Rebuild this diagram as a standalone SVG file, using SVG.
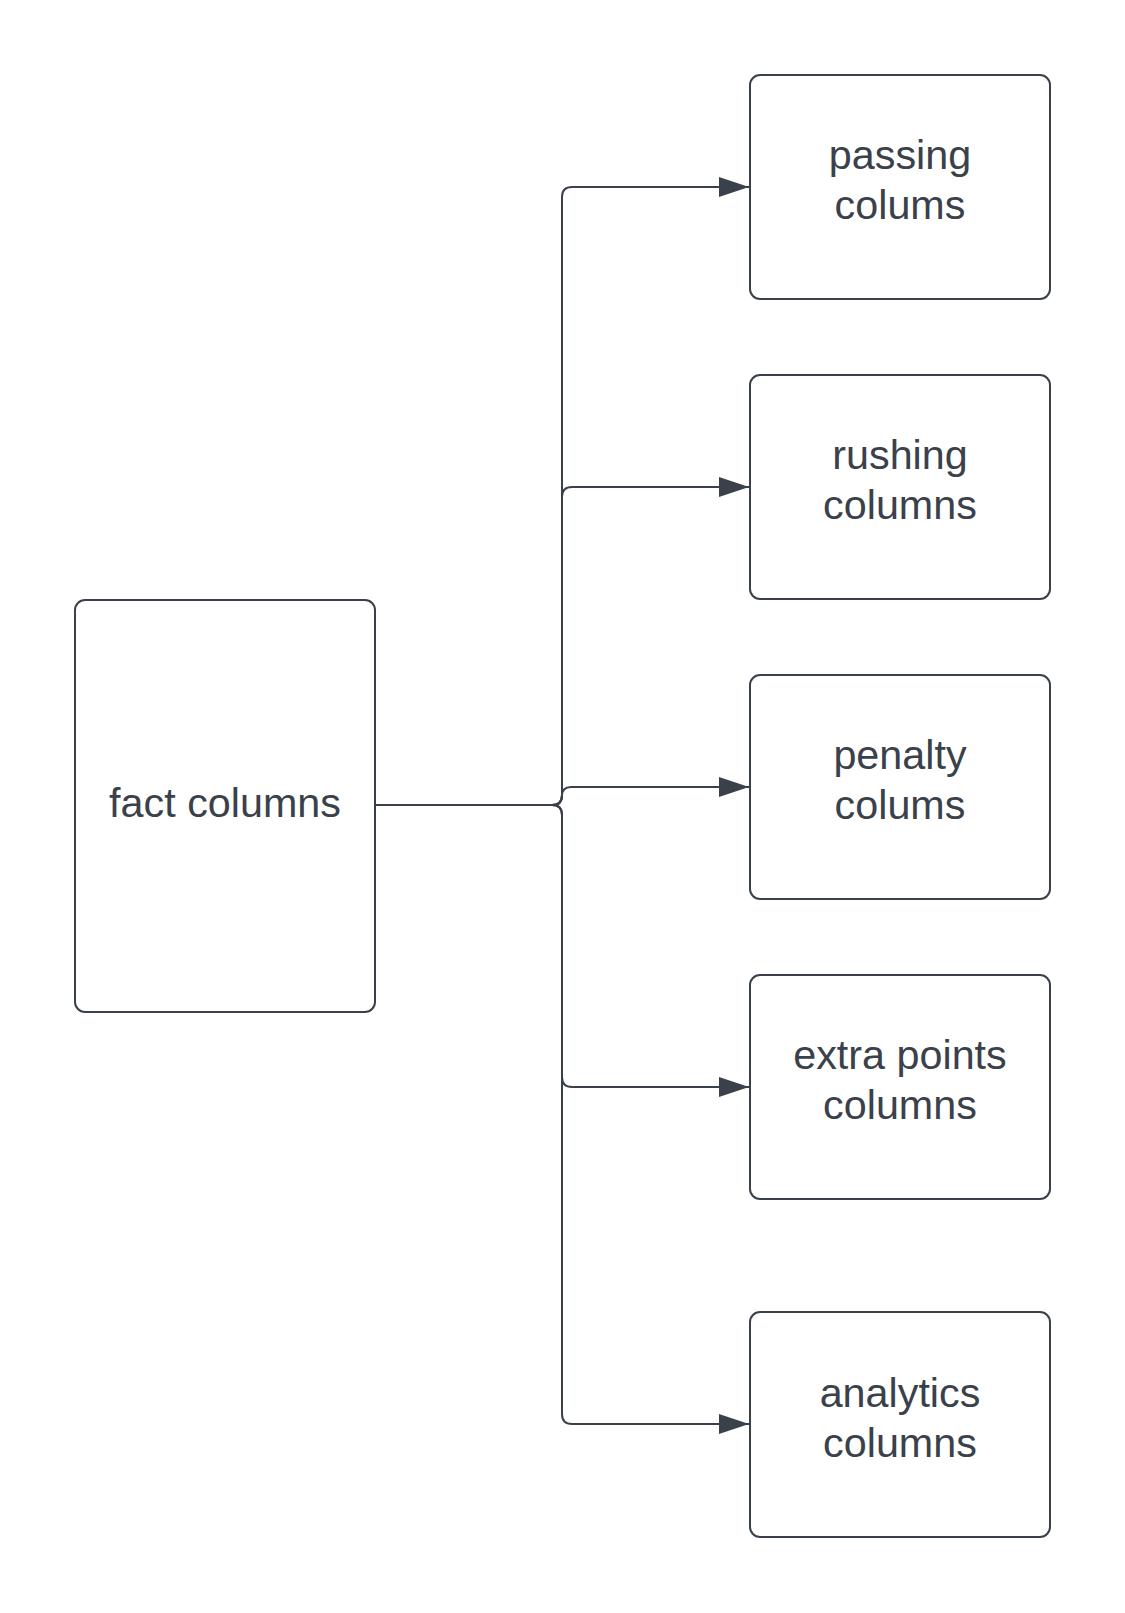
<svg xmlns="http://www.w3.org/2000/svg" width="1125" height="1613" viewBox="0 0 1125 1613">
<style>
.box{fill:#ffffff;stroke:#3a414a;stroke-width:2}
.lbl{font-family:"Liberation Sans",Arial,sans-serif;font-size:41.3px;fill:#3a414a;text-anchor:middle}
.con{fill:none;stroke:#3a414a;stroke-width:2}
</style>
<defs>
<marker id="arr" markerUnits="userSpaceOnUse" markerWidth="32" markerHeight="22" refX="30" refY="10" orient="auto">
<path d="M0,0 L30,10 L0,20 Z" fill="#3a414a"/>
</marker>
</defs>
<rect width="1125" height="1613" fill="#ffffff"/>
<g id="connectors">
<path class="con" marker-end="url(#arr)" d="M375,805 H552 Q562,805 562,795 V197 Q562,187 572,187 H749"/>
<path class="con" marker-end="url(#arr)" d="M375,805 H552 Q562,805 562,795 V497 Q562,487 572,487 H749"/>
<path class="con" marker-end="url(#arr)" d="M375,805 H553 Q562,805 562,796 Q562,787 571,787 H749"/>
<path class="con" marker-end="url(#arr)" d="M375,805 H552 Q562,805 562,815 V1077 Q562,1087 572,1087 H749"/>
<path class="con" marker-end="url(#arr)" d="M375,805 H552 Q562,805 562,815 V1414 Q562,1424 572,1424 H749"/>
</g>
<g id="fact">
<rect class="box" x="75" y="600" width="300" height="412" rx="10"/>
<text class="lbl" x="225" y="817">fact columns</text>
</g>
<g id="passing">
<rect class="box" x="750" y="75" width="300" height="224" rx="10"/>
<text class="lbl" x="900" y="169">passing</text>
<text class="lbl" x="900" y="219">colums</text>
</g>
<g id="rushing">
<rect class="box" x="750" y="375" width="300" height="224" rx="10"/>
<text class="lbl" x="900" y="469">rushing</text>
<text class="lbl" x="900" y="519">columns</text>
</g>
<g id="penalty">
<rect class="box" x="750" y="675" width="300" height="224" rx="10"/>
<text class="lbl" x="900" y="769">penalty</text>
<text class="lbl" x="900" y="819">colums</text>
</g>
<g id="extra">
<rect class="box" x="750" y="975" width="300" height="224" rx="10"/>
<text class="lbl" x="900" y="1069">extra points</text>
<text class="lbl" x="900" y="1119">columns</text>
</g>
<g id="analytics">
<rect class="box" x="750" y="1312" width="300" height="225" rx="10"/>
<text class="lbl" x="900" y="1407">analytics</text>
<text class="lbl" x="900" y="1457">columns</text>
</g>
</svg>
